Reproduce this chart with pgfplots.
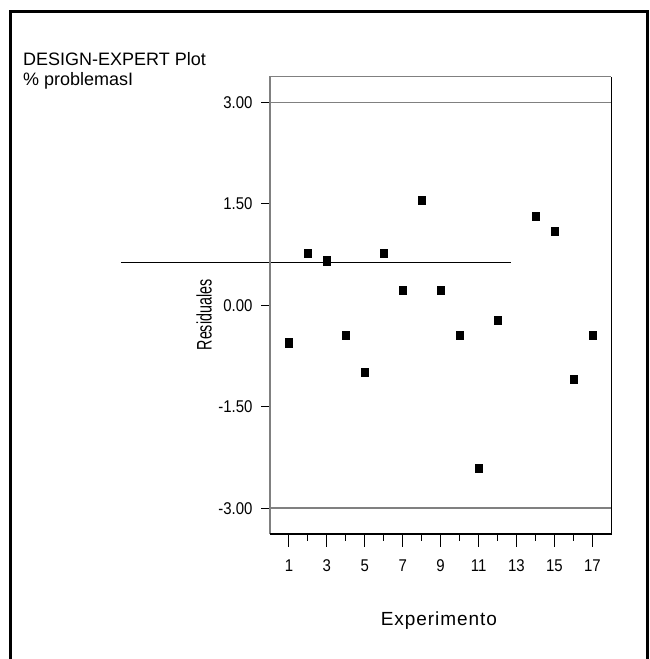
\documentclass[border=0pt]{standalone}
\usepackage{fontspec}
\setmainfont{Liberation Sans}
\newfontfamily\ticksfont[FakeStretch=0.88]{Liberation Sans}
\usepackage{pgfplots}
\pgfplotsset{compat=1.18}
\begin{document}
\begin{tikzpicture}[x=1pt,y=1pt]
\useasboundingbox (0,0) rectangle (649,659);
% outer frame
\draw[line width=2.6pt] (10.5,0) -- (10.5,647.7) -- (647.5,647.7) -- (647.5,0);
\node[anchor=base west, inner sep=0pt, font=\fontsize{18}{18}\selectfont] at (23,593) {DESIGN-EXPERT Plot};
\node[anchor=base west, inner sep=0pt, font=\fontsize{18}{18}\selectfont] at (23,573) {\% problemasI};

\begin{axis}[
    at={(270pt,125pt)}, anchor=south west,
    scale only axis,
    width=341.3pt, height=457.3pt,
    xmin=0, xmax=18,
    ymin=-3.38, ymax=3.38,
    clip=false,
    axis line style={draw=none},
    tick align=outside,
    xtick pos=bottom, ytick pos=left,
    xtick={1,3,...,17},
    minor x tick num=1,
    ytick={-3,-1.5,0,1.5,3},
    yticklabels={-3.00,-1.50,0.00,1.50,3.00},
    /pgf/number format/assume math mode=true,
    ticklabel style={font=\ticksfont\fontsize{17}{17}\selectfont},
    xtick style={black, line width=1pt, /pgfplots/major tick length=12.7pt, /pgfplots/minor tick length=7pt},
    ytick style={black, line width=1pt, /pgfplots/major tick length=9pt},
    xticklabel style={anchor=north, inner sep=0pt, yshift=-21.5pt},
    yticklabel style={anchor=east, inner sep=0pt, xshift=-13pt},
    xlabel={\addfontfeatures{LetterSpace=5}Experimento},
    xlabel style={at={(axis description cs:0.495,-0.19)}, anchor=center, font=\fontsize{19}{19}\selectfont},
    ylabel={\scalebox{0.68}[1]{Residuales}},
    ylabel style={at={(axis description cs:-0.193,0.479)}, anchor=center, font=\fontsize{21}{21}\selectfont},
]
% +-3 limit lines
\addplot[gray, line width=1.6pt] coordinates {(0,3) (18,3)};
\addplot[gray, line width=1.6pt] coordinates {(0,-3) (18,-3)};
% stray line
\addplot[black, line width=1pt] coordinates {(-7.86,0.63) (12.71,0.63)};
% residuals
\addplot[only marks, mark=square*, mark size=4.2pt, mark options={xscale=0.8, fill=black, draw=black}]
coordinates {
(1,-0.55) (2,0.77) (3,0.66) (4,-0.44) (5,-0.99) (6,0.77) (7,0.22) (8,1.55)
(9,0.22) (10,-0.44) (11,-2.41) (12,-0.22) (14,1.32) (15,1.10) (16,-1.09) (17,-0.44)
};
% box
\draw[gray, line width=1.3pt] (rel axis cs:0,0) -- (rel axis cs:0,1) -- (rel axis cs:1,1);
\draw[black, line width=1.3pt] (rel axis cs:0,0) -- (rel axis cs:1,0) -- (rel axis cs:1,1);
\end{axis}
\end{tikzpicture}
\end{document}
